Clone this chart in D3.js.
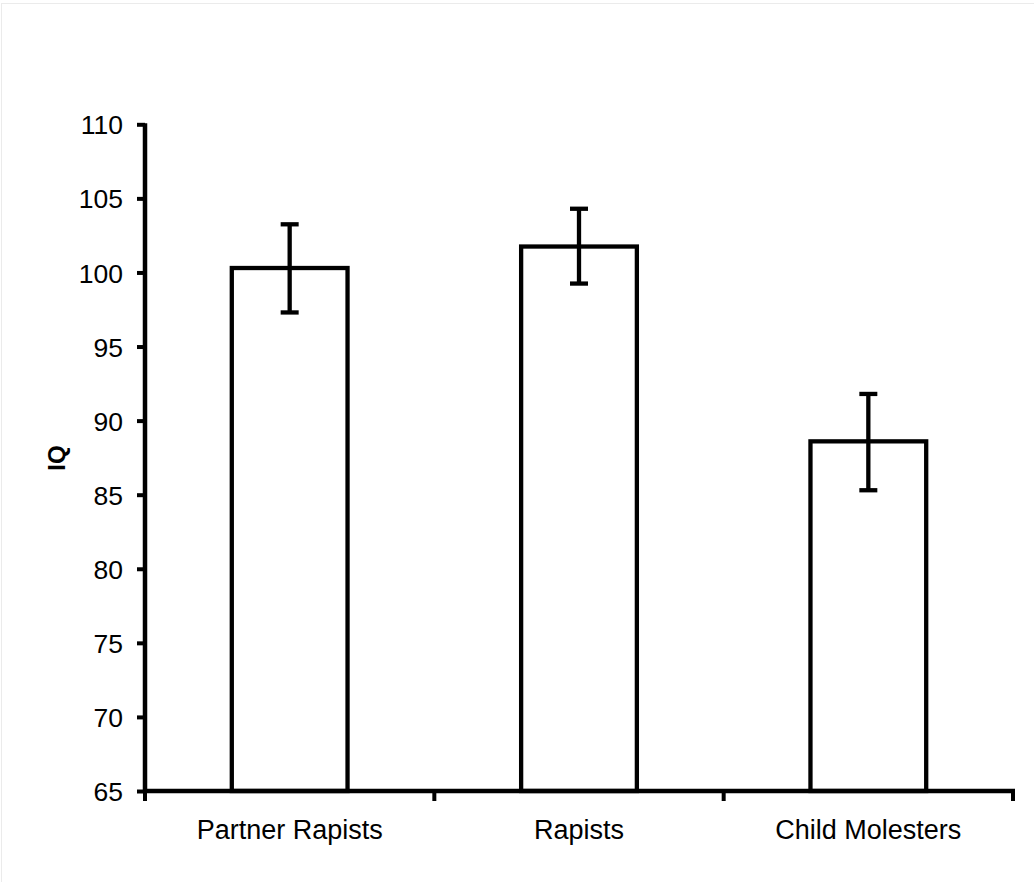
<!DOCTYPE html>
<html>
<head>
<meta charset="utf-8">
<script src="https://cdn.jsdelivr.net/npm/d3@7"></script>
<style>
  html, body { margin: 0; padding: 0; background: #fff; }
  svg { display: block; }
</style>
</head>
<body>
<svg id="chart" width="1034" height="882"></svg>
<script>
const categories = ["Partner Rapists", "Rapists", "Child Molesters"];
const means = [100.3, 101.75, 88.6];
const errUpper = [103.25, 104.3, 91.8];
const errLower = [97.3, 99.25, 85.3];
const yTicks = [65, 70, 75, 80, 85, 90, 95, 100, 105, 110];
const yLabel = "IQ";

const svg = d3.select("#chart");
const font = "'Liberation Sans', Arial, sans-serif";

// faint frame
svg.append("rect").attr("x", 1.5).attr("y", 3.5).attr("width", 1040).attr("height", 900)
  .attr("fill", "none").attr("stroke", "#ebebeb").attr("stroke-width", 1);

const x = d3.scaleBand().domain(categories).range([145, 1013])
  .paddingInner(0.6).paddingOuter(0.3);
const y = d3.scaleLinear().domain([65, 110]).range([791, 124.3]);

const g = svg.append("g");

// bars
g.selectAll("rect.bar").data(categories).join("rect")
  .attr("class", "bar")
  .attr("x", d => x(d))
  .attr("width", x.bandwidth())
  .attr("y", (d, i) => y(means[i]))
  .attr("height", (d, i) => y(65) - y(means[i]))
  .attr("fill", "#fff").attr("stroke", "#000").attr("stroke-width", 4.3);

// error bars
const capW = 18;
categories.forEach((c, i) => {
  const cx = x(c) + x.bandwidth() / 2;
  g.append("line").attr("x1", cx).attr("x2", cx)
    .attr("y1", y(errUpper[i])).attr("y2", y(errLower[i]))
    .attr("stroke", "#000").attr("stroke-width", 4.3);
  [errUpper[i], errLower[i]].forEach(v => {
    g.append("line").attr("x1", cx - capW / 2).attr("x2", cx + capW / 2)
      .attr("y1", y(v)).attr("y2", y(v))
      .attr("stroke", "#000").attr("stroke-width", 4.3);
  });
});

// y axis
const yAxis = g.append("g").attr("transform", "translate(145,0)")
  .call(d3.axisLeft(y).tickValues(yTicks).tickSize(8).tickPadding(14).tickSizeOuter(0));
yAxis.select(".domain").attr("stroke", "#000").attr("stroke-width", 4.5)
  .attr("d", `M0,${y(65) + 2}V${y(110) - 1}`);
yAxis.selectAll(".tick line").attr("stroke", "#000").attr("stroke-width", 4);
yAxis.selectAll(".tick text").attr("font-family", font).attr("font-size", 26.5)
  .attr("fill", "#000").attr("dy", "0.36em");

// x axis
const xAxis = g.append("g").attr("transform", "translate(0,791)")
  .call(d3.axisBottom(x).tickSize(0).tickSizeOuter(0));
xAxis.select(".domain").attr("stroke", "#000").attr("stroke-width", 4.5)
  .attr("d", `M${143},0H${1015}`);
xAxis.selectAll(".tick text").attr("font-family", font).attr("font-size", 27)
  .attr("fill", "#000").attr("y", 48).attr("dy", 0);
const gap = (x.step() - x.bandwidth()) / 2;
const bounds = categories.map(c => x(c) - gap).concat([x(categories[categories.length - 1]) + x.bandwidth() + gap]);
xAxis.selectAll("line.bound").data(bounds).join("line")
  .attr("class", "bound")
  .attr("x1", d => d).attr("x2", d => d)
  .attr("y1", 0).attr("y2", 10)
  .attr("stroke", "#000").attr("stroke-width", 4);

// y label
svg.append("text")
  .attr("transform", "translate(65,458) rotate(-90)")
  .attr("text-anchor", "middle")
  .attr("font-family", font).attr("font-weight", "bold").attr("font-size", 24)
  .attr("fill", "#000")
  .text(yLabel);
</script>
</body>
</html>
